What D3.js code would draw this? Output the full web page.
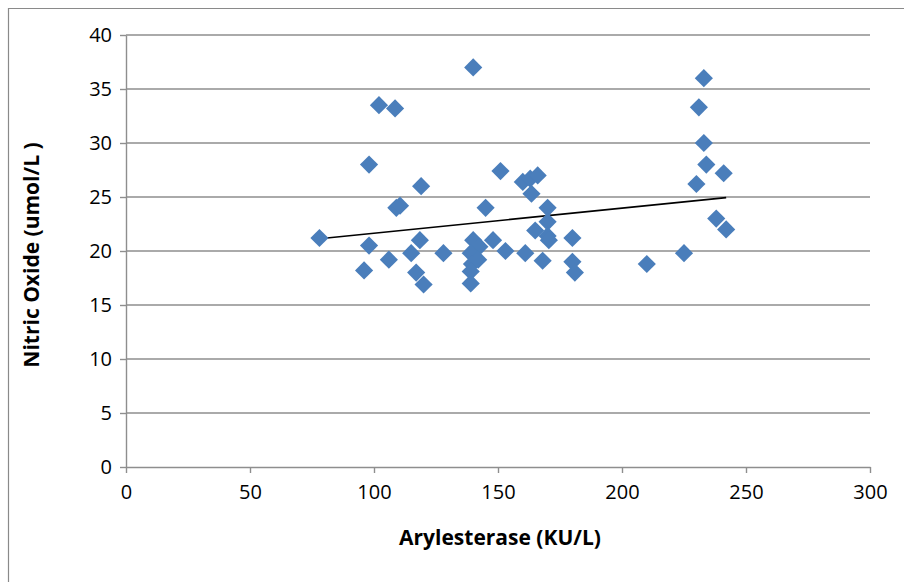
<!DOCTYPE html>
<meta charset="utf-8">
<style>
    body { margin: 0; background: #fff; }
    text { font-family: "Open Sans", sans-serif; fill: #000; }
    .grid line { stroke: #8e8e8e; stroke-width: 1.4; }
    .axis path, .axis line { stroke: #8e8e8e; stroke-width: 1.4; }
    .axis text { font-size: 20px; }
    .title { font-size: 21px; font-weight: bold; }
    path.point { fill: #4a7ebb; }
    path.trend { fill: none; stroke: #000; stroke-width: 1.6; }
</style>
<body>
<script src="https://cdn.jsdelivr.net/npm/d3@7"></script>
<script>

    // Arylesterase (KU/L)
    var arylesterase = [78, 96, 98, 98, 102, 106, 108.5, 109, 110.5, 115, 117, 118.5, 119, 120, 128,
        140, 142.5, 139, 142, 139.5, 139, 139, 140, 145, 148, 151, 153, 160, 161, 163, 166, 163.5,
        165, 168, 170, 170, 170, 170.5, 180, 180, 181, 210, 225, 230, 231, 233, 233, 234, 238, 241, 242];

    // Nitric Oxide (umol/L)
    var nitricOxide = [21.2, 18.2, 20.5, 28, 33.5, 19.2, 33.2, 24, 24.2, 19.8, 18, 21, 26, 16.9, 19.8,
        21, 20.4, 19.8, 19.2, 18.8, 18.1, 17, 37, 24, 21, 27.4, 20, 26.4, 19.8, 26.7, 27, 25.3,
        21.9, 19.1, 24, 22.7, 21.4, 21, 21.2, 19, 18, 18.8, 19.8, 26.2, 33.3, 36, 30, 28, 23, 27.2, 22];

    // linear trendline: y = slope * x + intercept
    var trendSlope = 0.0232,
        trendIntercept = 19.33;

    var xTicks = [0, 50, 100, 150, 200, 250, 300],
        yTicks = [0, 5, 10, 15, 20, 25, 30, 35, 40];

    var margin = {top: 35, right: 34, bottom: 115, left: 126},
        width = 904 - margin.left - margin.right,
        height = 582 - margin.top - margin.bottom;

    var data = arylesterase.map(function(d, i) { return {x: d, y: nitricOxide[i]}; });

    var x = d3.scaleLinear().domain([0, 300]).range([0, width]);
    var y = d3.scaleLinear().domain([0, 40]).range([height, 0]);

    var svg = d3.select("body").append("svg")
            .attr("width", 904)
            .attr("height", 582);

    // outer chart border (only top and left visible)
    svg.append("path")
            .attr("d", "M8.5,582V8.5H904")
            .attr("fill", "none")
            .attr("stroke", "#8a8a8a")
            .attr("stroke-width", 1.2);

    var g = svg.append("g")
            .attr("transform", "translate(" + margin.left + "," + margin.top + ")");

    g.append("g")
            .attr("class", "grid")
        .selectAll("line")
            .data(yTicks.filter(function(d) { return d > 0; }))
        .enter().append("line")
            .attr("x1", 0)
            .attr("x2", width)
            .attr("y1", function(d) { return y(d); })
            .attr("y2", function(d) { return y(d); });

    var xAxis = d3.axisBottom(x).tickValues(xTicks).tickSize(6).tickSizeOuter(0).tickPadding(8);
    var yAxis = d3.axisLeft(y).tickValues(yTicks).tickSize(6).tickSizeOuter(0).tickPadding(8);

    g.append("g")
            .attr("class", "y axis")
            .call(yAxis);

    g.append("g")
            .attr("class", "x axis")
            .attr("transform", "translate(0," + height + ")")
            .call(xAxis);

    g.selectAll(".x.axis text").attr("dy", "0.9em");

    // trendline drawn across the data range
    var xExt = d3.extent(data, function(d) { return d.x; });

    g.append("path")
            .attr("class", "trend")
            .datum(xExt.map(function(v) { return [v, trendIntercept + trendSlope * v]; }))
            .attr("d", d3.line()
                .x(function(d) { return x(d[0]); })
                .y(function(d) { return y(d[1]); }));

    var diamond = d3.symbol().type(d3.symbolSquare).size(165);

    g.selectAll("path.point")
            .data(data)
        .enter().append("path")
            .attr("class", "point")
            .attr("d", diamond)
            .attr("transform", function(d) {
                return "translate(" + x(d.x) + "," + y(d.y) + ") rotate(45)";
            });

    svg.append("text")
            .attr("class", "title")
            .attr("x", margin.left + width / 2 + 2)
            .attr("y", 545)
            .attr("text-anchor", "middle")
            .text("Arylesterase (KU/L)");

    svg.append("text")
            .attr("class", "title")
            .attr("transform", "translate(39," + (margin.top + height / 2 + 4) + ") rotate(-90)")
            .attr("text-anchor", "middle")
            .text("Nitric Oxide (umol/L )");

</script>
